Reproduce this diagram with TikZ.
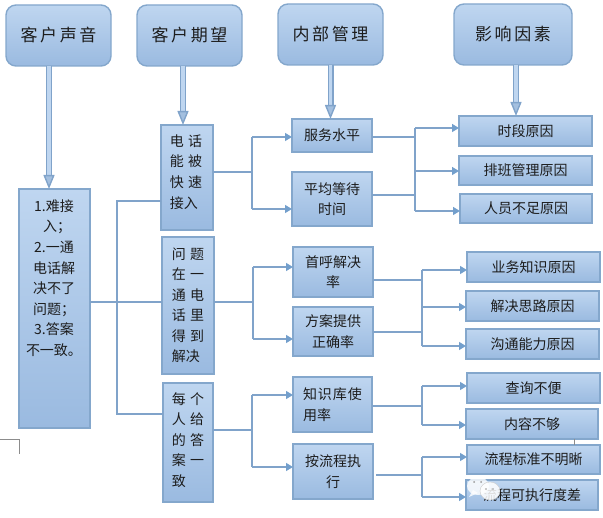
\documentclass[tikz,border=0pt]{standalone}
\usepackage{fontspec}
\setmainfont{Noto Sans CJK SC}
\usetikzlibrary{arrows.meta}
\definecolor{edgeblue}{HTML}{84A7CC}
\definecolor{topblue}{HTML}{BFD6F0}
\definecolor{botblue}{HTML}{9ABAE0}
\definecolor{linkblue}{HTML}{80A3CA}
\definecolor{tipblue}{HTML}{739FCC}
\definecolor{inkc}{HTML}{1C1C1C}
\newcommand{\gp}{\hspace{4.5pt}}
\newcommand{\hg}{\hspace{2.6pt}}
\tikzset{
  x=1pt,y=-1pt,
  headbox/.style={draw=edgeblue,line width=1.4pt,rounded corners=10pt,top color=topblue,bottom color=botblue,
    text=inkc,font=\fontsize{17}{20}\selectfont,minimum width=105pt,minimum height=61pt,inner sep=0pt,outer sep=0pt},
  subbox/.style={draw=edgeblue,line width=1.3pt,top color=topblue,bottom color=botblue,
    text=inkc,font=\fontsize{14}{20.5}\selectfont,inner sep=0pt,outer sep=0pt,align=center},
  leftbox/.style={subbox,align=left},
  boxtext/.style={text=inkc,font=\fontsize{14}{20.6}\selectfont,inner sep=0pt},
  fatarrow/.style={draw=linkblue,line width=1.4pt,double=topblue,double distance=3.2pt,
    -{Triangle[length=14pt,width=11pt,fill=topblue!55!linkblue]}},
  conn/.style={draw=linkblue,line width=1.4pt},
  connarrow/.style={conn,-{Triangle[length=7pt,width=8pt,fill=tipblue,color=tipblue]}},
  thinmark/.style={draw=black!45,line width=.6pt},
}
\begin{document}
\begin{tikzpicture}
\useasboundingbox (0,0) rectangle (603,518);
% corner mark and stray rule
\coordinate (ca) at (0,439); \coordinate (cb) at (19,439); \coordinate (cc) at (19,454);
\draw[thinmark] (ca) -- (cb) -- (cc);
% headers
\node[headbox] (h1) at (58.5,35.5) {客\hg 户\hg 声\hg 音};
\node[headbox] (h2) at (189.5,35.5) {客\hg 户\hg 期\hg 望};
\node[headbox] (h3) at (330.5,34.5) {内\hg 部\hg 管\hg 理};
\node[headbox,minimum width=118pt] (h4) at (513,34.5) {影\hg 响\hg 因\hg 素};
% left box
\node[subbox,minimum width=71pt,minimum height=239pt] (big) at (54.5,308.5) {};
\node[boxtext,align=center] (bigt) at (54,278) {1.难接\\\hspace{6pt}入；\\2.一通\\电话解\\决不了\\问题；\\3.答案\\不一致。};
% expectation boxes
\node[leftbox,minimum width=52pt,minimum height=105pt] (e1) at (187,177.5) {};
\node[boxtext,align=left] (e1t) at (186,172) {电\gp 话\\能\gp 被\\快\gp 速\\接入};
\node[leftbox,minimum width=52pt,minimum height=137pt] (e2) at (188,305.5) {问\gp 题\\在\gp 一\\通\gp 电\\话\gp 里\\得\gp 到\\解决};
\node[minimum width=50pt,minimum height=119pt,leftbox] (e3) at (188,442.5) {};
\node[boxtext,align=left] (e3t) at (188,440) {每\gp 个\\人\gp 给\\的\gp 答\\案\gp 一\\致};
% management boxes
\node[subbox,minimum width=80pt,minimum height=33pt] (m1) at (332,135.5) {服务水平};
\node[subbox,minimum width=80pt,minimum height=54pt] (m2) at (332,199) {平均等待\\时间};
\node[subbox,minimum width=80pt,minimum height=50pt] (m3) at (333,272) {首呼解决\\率};
\node[subbox,minimum width=80pt,minimum height=49pt] (m4) at (333,331.5) {方案提供\\正确率};
\node[leftbox,minimum width=79pt,minimum height=55pt] (m5) at (332.5,404.5) {知\hspace{1pt}识\hspace{1pt}库\hspace{1pt}使\\用率};
\node[subbox,minimum width=80pt,minimum height=55pt] (m6) at (333,471.5) {按流程执\\行};
% factor boxes
\node[subbox,minimum width=133pt,minimum height=30pt] (f1) at (525.5,131) {时段原因};
\node[subbox,minimum width=133pt,minimum height=29pt] (f2) at (525.5,170.5) {排班管理原因};
\node[subbox,minimum width=132pt,minimum height=29pt] (f3) at (526,208.5) {人员不足原因};
\node[subbox,minimum width=133pt,minimum height=30pt] (f4) at (533.5,267) {业务知识原因};
\node[subbox,minimum width=133pt,minimum height=30pt] (f5) at (532.5,306) {解决思路原因};
\node[subbox,minimum width=133pt,minimum height=30pt] (f6) at (532.5,344) {沟通能力原因};
\node[subbox,minimum width=133pt,minimum height=30pt] (f7) at (533.5,388) {查询不便};
\node[subbox,minimum width=132pt,minimum height=30pt] (f8) at (532,424) {内容不够};
\node[subbox,minimum width=133pt,minimum height=29pt] (f9) at (533.5,459.5) {流程标准不明晰};
\node[subbox,minimum width=132pt,minimum height=30pt] (f10) at (532,495) {流程可执行度差};
\draw[thinmark] ([xshift=42pt]f8.south) -- ([xshift=40.5pt]f9.north);
% header arrows
\draw[fatarrow] ([xshift=-9.5pt]h1.south) -- ([xshift=-5.5pt]big.north);
\draw[fatarrow] ([xshift=-6.5pt]h2.south) -- ([xshift=-4pt]e1.north);
\draw[fatarrow] (h3.south) -- (m1.north -| h3.south);
\draw[fatarrow] ([xshift=3pt]h4.south) -- ([xshift=-9.5pt]f1.north);
% left tree
\coordinate (lj) at (117,302);
\coordinate (lu) at (117,201);
\coordinate (ld) at (117,414);
\draw[conn] (big.east |- lj) -- (e2.west |- lj);
\draw[conn] (e1.west |- lu) -- (lu) -- (ld) -- (e3.west |- ld);
% expectation to management
\coordinate (a0) at (252,172); \coordinate (a1) at (252,137); \coordinate (a2) at (252,209);
\draw[conn] (e1.east |- a0) -- (a0);
\draw[conn] (a0) -- (a1); \draw[conn] (a0) -- (a2);
\draw[connarrow] (a1) -- (a1 -| m1.west);
\draw[connarrow] (a2) -- (a2 -| m2.west);
\coordinate (b0) at (253,302); \coordinate (b1) at (253,267); \coordinate (b2) at (253,339);
\draw[conn] (e2.east |- b0) -- (b0);
\draw[conn] (b0) -- (b1); \draw[conn] (b0) -- (b2);
\draw[connarrow] (b1) -- (b1 -| m3.west);
\draw[connarrow] (b2) -- (b2 -| m4.west);
\coordinate (c0) at (252,430); \coordinate (c1) at (252,395); \coordinate (c2) at (252,467);
\draw[conn] (e3.east |- c0) -- (c0);
\draw[conn] (c0) -- (c1); \draw[conn] (c0) -- (c2);
\draw[connarrow] (c1) -- (c1 -| m5.west);
\draw[connarrow] (c2) -- (c2 -| m6.west);
% management to factors
\coordinate (p1) at (415,137); \coordinate (p2) at (415,195);
\coordinate (q1) at (415,128); \coordinate (q2) at (415,171); \coordinate (q3) at (415,211);
\draw[conn] (m1.east |- p1) -- (p1);
\draw[conn] (m2.east |- p2) -- (p2);
\draw[conn] (q1) -- (q3);
\draw[connarrow] (q1) -- (q1 -| f1.west);
\draw[connarrow] (q2) -- (q2 -| f2.west);
\draw[connarrow] (q3) -- (q3 -| f3.west);
\coordinate (r1) at (422,280); \coordinate (r2) at (422,332);
\coordinate (s1) at (422,270); \coordinate (s2) at (422,307); \coordinate (s3) at (422,346);
\draw[conn] (m3.east |- r1) -- (r1);
\draw[conn] (m4.east |- r2) -- (r2);
\draw[conn] (s1) -- (s3);
\draw[connarrow] (s1) -- (s1 -| f4.west);
\draw[connarrow] (s2) -- (s2 -| f5.west);
\draw[connarrow] (s3) -- (s3 -| f6.west);
\coordinate (u0) at (422,406); \coordinate (u1) at (422,386); \coordinate (u2) at (422,425);
\draw[conn] (m5.east |- u0) -- (u0);
\draw[conn] (u1) -- (u2);
\draw[connarrow] (u1) -- (u1 -| f7.west);
\draw[connarrow] (u2) -- (u2 -| f8.west);
\coordinate (v0) at (422,475); \coordinate (v1) at (422,457); \coordinate (v2) at (422,497);
\draw[conn] ([xshift=3pt]m6.east |- v0) -- (v0);
\draw[conn] (v1) -- (v2);
\draw[connarrow] (v1) -- (v1 -| f9.west);
\draw[connarrow] (v2) -- (v2 -| f10.west);
% watermark bubbles
\fill[white,opacity=.8] (478,486) ellipse (11pt and 9pt);
\fill[white,opacity=.8] (469,497) -- (473,490) -- (478,493) -- cycle;
\fill[white,opacity=.85] (490,491) ellipse (10pt and 9pt);
\draw[black!20,line width=.4pt] (490,491) ellipse (10pt and 9pt);
\fill[black!40] (474,482) circle (1pt) (481,482) circle (1pt) (486,489) circle (.8pt) (493,489) circle (.8pt);
\end{tikzpicture}
\end{document}
